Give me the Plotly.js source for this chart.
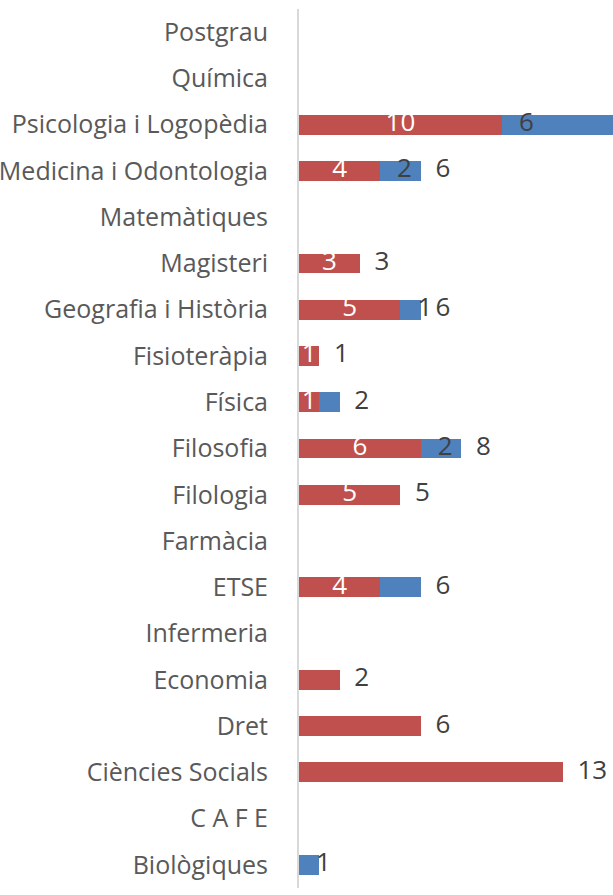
<!DOCTYPE html>
<html><head><meta charset="utf-8">
<script src="https://cdn.plot.ly/plotly-3.0.1.min.js"></script>
<style>html,body{margin:0;padding:0;background:#fff;}#chart{width:613px;height:895px;}</style>
</head><body><div id="chart"></div>
<script>
const categories = ["Biològiques","C A F E","Ciències Socials","Dret","Economia","Infermeria","ETSE","Farmàcia","Filologia","Filosofia","Física","Fisioteràpia","Geografia i Història","Magisteri","Matemàtiques","Medicina i Odontologia","Psicologia i Logopèdia","Química","Postgrau"];
const redValues  = [0,0,13,6,2,0,4,0,5,6,1,1,5,3,0,4,10,0,0];
const blueValues = [1,0,0,0,0,0,2,0,0,2,1,0,1,0,0,2,6,0,0];
const redLabels  = ["","","","","","","4","","5","6","1","1","5","3","","4","10","",""];
const blueLabels = ["1","","","","","","","","","2","","","1","","","2","6","",""];
const totalLabels= ["","","13","6","2","","6","","5","8","2","1","6","3","","6","","",""];

const totals = redValues.map((v,i)=>v+blueValues[i]);
const FONT = "Open Sans";
const FS = 25;
const DFS = 26;

const traces = [
  {type:'bar', orientation:'h', y:categories, x:redValues, marker:{color:'#C0504D'}, hoverinfo:'none'},
  {type:'bar', orientation:'h', y:categories, x:blueValues, marker:{color:'#4F81BD'}, hoverinfo:'none'},
  {type:'scatter', mode:'text', y:categories, x:redValues.map(v=>v/2), text:redLabels,
   textposition:'middle center', textfont:{family:FONT,size:DFS,color:'#ffffff'}, hoverinfo:'none', cliponaxis:false},
  {type:'scatter', mode:'text', y:categories, x:redValues.map(v=>v+1.2), text:blueLabels,
   textposition:'middle center', textfont:{family:FONT,size:DFS,color:'#404040'}, hoverinfo:'none', cliponaxis:false},
  {type:'scatter', mode:'text', y:categories, x:totals.map(v=>v+0.72), text:totalLabels,
   textposition:'middle right', textfont:{family:FONT,size:DFS,color:'#404040'}, hoverinfo:'none', cliponaxis:false}
];

const layout = {
  width:613, height:895,
  margin:{l:299, r:0, t:9, b:7},
  barmode:'stack', bargap:0.57,
  showlegend:false,
  paper_bgcolor:'#ffffff', plot_bgcolor:'#ffffff',
  xaxis:{range:[0,15.47], visible:false, fixedrange:true},
  yaxis:{type:'category', categoryorder:'array', categoryarray:categories, range:[-0.5,18.5],
    showline:true, linecolor:'#D9D9D9', linewidth:2, ticks:'', showgrid:false, zeroline:false,
    ticklabelstandoff:24, tickfont:{family:FONT,size:FS,color:'#595959'}, automargin:false}
};
Plotly.newPlot('chart', traces, layout, {staticPlot:true});
</script></body></html>
